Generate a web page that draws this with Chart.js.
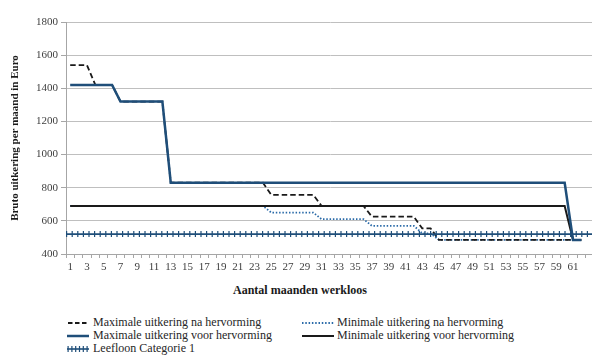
<!DOCTYPE html>
<html>
<head>
<meta charset="utf-8">
<script src="https://cdn.jsdelivr.net/npm/chart.js@4.4.1/dist/chart.umd.min.js"></script>
<style>
  html, body { margin: 0; padding: 0; background: #fff; overflow: hidden; width: 592px; height: 358px; }
  #wrap { position: relative; width: 592px; height: 358px; overflow: hidden; font-family: "Liberation Serif", "Times New Roman", Times, "DejaVu Serif", serif; color: #262626; }
  #c { position: absolute; left: 0; top: 0; }
  .xtitle { position: absolute; top: 283px; left: 300px; transform: translateX(-50%); font-weight: bold; font-size: 12px; white-space: nowrap; color: #1a1a1a; }
  .lg { position: absolute; display: flex; align-items: center; font-size: 12px; line-height: 13px; white-space: nowrap; color: #262626; }
  .lg svg { display: block; }
</style>
</head>
<body>
<div id="wrap">
  <canvas id="c" width="600" height="280"></canvas>
  <div class="xtitle">Aantal maanden werkloos</div>
  <div id="legend"></div>
</div>
<script>
// Months of unemployment (x categories)
const months = [1,2,3,4,5,6,7,8,9,10,11,12,13,14,15,16,17,18,19,20,21,22,23,24,25,26,27,28,29,30,31,
                32,33,34,35,36,37,38,39,40,41,42,43,44,45,46,47,48,49,50,51,52,53,54,55,56,57,58,59,60,61,62];

// Gross benefit per month (EUR)
const maxNa = [1540,1540,1540,1420,1420,1420,1320,1320,1320,1320,1320,1320,
               830,830,830,830,830,830,830,830,830,830,830,830,
               757,757,757,757,757,757,690,690,690,690,690,690,
               625,625,625,625,625,625,555,555,
               485,485,485,485,485,485,485,485,485,485,485,485,485,485,485,485,485,485];
const minNa = [690,690,690,690,690,690,690,690,690,690,690,690,
               690,690,690,690,690,690,690,690,690,690,690,690,
               650,650,650,650,650,650,610,610,610,610,610,610,
               570,570,570,570,570,570,525,525,
               485,485,485,485,485,485,485,485,485,485,485,485,485,485,485,485,485,485];
const maxVoor = [1420,1420,1420,1420,1420,1420,1320,1320,1320,1320,1320,1320,
                 830,830,830,830,830,830,830,830,830,830,830,830,
                 830,830,830,830,830,830,830,830,830,830,830,830,
                 830,830,830,830,830,830,830,830,830,830,830,830,
                 830,830,830,830,830,830,830,830,830,830,830,830,485,485];
const minVoor = [690,690,690,690,690,690,690,690,690,690,690,690,
                 690,690,690,690,690,690,690,690,690,690,690,690,
                 690,690,690,690,690,690,690,690,690,690,690,690,
                 690,690,690,690,690,690,690,690,690,690,690,690,
                 690,690,690,690,690,690,690,690,690,690,690,690,485,485];
const leefloon = 520;

// Y axis ticks
const yMin = 400, yMax = 1800, yStep = 200;
// X axis range: half a month either side of each category, one spare slot on the right
const xMin = 0.5, xMax = 63.5;

const series = [
  { key: 'maxNa',  label: 'Maximale uitkering na hervorming',  values: maxNa },
  { key: 'minNa',  label: 'Minimale uitkering na hervorming',  values: minNa },
  { key: 'maxVoor', label: 'Maximale uitkering voor hervorming', values: maxVoor },
  { key: 'minVoor', label: 'Minimale uitkering voor hervorming', values: minVoor }
];
const pts = arr => months.map((m, i) => ({ x: m, y: arr[i] }));

const BLUE = '#1F4E79';
const DOT_BLUE = '#2A6AA8';
const BLACK = '#1a1a1a';
const GRID = '#bfbfbf';
const AXIS = '#a6a6a6';
const FONT = '"Liberation Serif", "Times New Roman", Times, "DejaVu Serif", serif';

const styles = {
  maxNa:  { borderColor: BLACK, borderWidth: 1.8, borderDash: [5.5, 3], order: 4 },
  minNa:  { borderColor: DOT_BLUE, borderWidth: 1.8, borderDash: [1.5, 1.8], order: 5 },
  maxVoor: { borderColor: BLUE, borderWidth: 2.5, order: 2 },
  minVoor: { borderColor: BLACK, borderWidth: 2, order: 3 }
};

const datasets = series.map(s => Object.assign({
  label: s.label,
  data: pts(s.values),
  pointRadius: 0,
  tension: 0,
  fill: false,
  borderCapStyle: 'butt'
}, styles[s.key]));

// Leefloon: thin line plus a row of short vertical ticks
const leefloonPts = [{ x: xMin, y: leefloon }, { x: xMax, y: leefloon }];
datasets.push({
  label: 'Leefloon Categorie 1',
  data: leefloonPts,
  borderColor: BLUE, borderWidth: 1.6, pointRadius: 0, order: 1, borderCapStyle: 'butt'
});
datasets.push({
  label: 'Leefloon Categorie 1 (ticks)',
  data: leefloonPts,
  borderColor: BLUE, borderWidth: 6, borderDash: [1.2, 4.4], pointRadius: 0, order: 1, borderCapStyle: 'butt'
});

new Chart(document.getElementById('c'), {
  type: 'line',
  data: { datasets },
  options: {
    responsive: false,
    animation: false,
    devicePixelRatio: 1,
    layout: { padding: { top: 22, right: 6, bottom: 0, left: 0 } },
    plugins: { legend: { display: false }, tooltip: { enabled: false } },
    scales: {
      x: {
        type: 'linear',
        min: xMin, max: xMax,
        afterBuildTicks: scale => {
          const t = [];
          for (let v = xMin; v <= xMax; v += 0.5) t.push({ value: v });
          scale.ticks = t;
        },
        afterFit: scale => { scale.height = 26; },
        grid: {
          drawOnChartArea: false,
          drawTicks: true,
          tickLength: 4,
          tickColor: ctx => (ctx.tick && Number.isInteger(ctx.tick.value)) ? 'rgba(0,0,0,0)' : AXIS
        },
        border: { color: AXIS, width: 1 },
        ticks: {
          autoSkip: false, maxRotation: 0, minRotation: 0, padding: 3,
          color: '#404040',
          font: { family: FONT, size: 11 },
          callback: v => (Number.isInteger(v) && v % 2 === 1 && months.includes(v)) ? String(v) : ''
        }
      },
      y: {
        min: yMin, max: yMax,
        afterFit: scale => { scale.width = 66; },
        grid: { color: GRID, lineWidth: 1, tickLength: 5, tickColor: AXIS },
        border: { color: AXIS, width: 1 },
        ticks: {
          stepSize: yStep, padding: 3, color: '#404040',
          font: { family: FONT, size: 11 },
          callback: v => String(v)
        },
        title: {
          display: true,
          text: 'Bruto uitkering per maand in Euro',
          color: '#1a1a1a',
          font: { family: FONT, size: 11, weight: 'bold' },
          padding: { top: 9, bottom: 0 }
        }
      }
    }
  }
});

// Legend
const legendItems = [
  { label: series[0].label, left: 67, top: 316, w: 22, kind: 'dash' },
  { label: series[1].label, left: 302, top: 316, w: 32, kind: 'dot' },
  { label: series[2].label, left: 67, top: 329, w: 22, kind: 'blue' },
  { label: series[3].label, left: 302, top: 329, w: 32, kind: 'black' },
  { label: 'Leefloon Categorie 1', left: 67, top: 342, w: 22, kind: 'ticks' }
];
const svgFor = (kind, w) => {
  const y = 5;
  let body = '';
  if (kind === 'dash') body = `<line x1="1" y1="${y}" x2="${w}" y2="${y}" stroke="${BLACK}" stroke-width="1.8" stroke-dasharray="4.5 2.5"/>`;
  if (kind === 'dot') body = `<line x1="0" y1="${y}" x2="${w}" y2="${y}" stroke="${DOT_BLUE}" stroke-width="1.8" stroke-dasharray="1.5 1.8"/>`;
  if (kind === 'blue') body = `<line x1="0" y1="${y}" x2="${w}" y2="${y}" stroke="${BLUE}" stroke-width="2.5"/>`;
  if (kind === 'black') body = `<line x1="0" y1="${y}" x2="${w}" y2="${y}" stroke="${BLACK}" stroke-width="2"/>`;
  if (kind === 'ticks') body = `<line x1="0" y1="${y}" x2="${w}" y2="${y}" stroke="${BLUE}" stroke-width="1.6"/>` +
    `<line x1="0.5" y1="${y}" x2="${w}" y2="${y}" stroke="${BLUE}" stroke-width="6" stroke-dasharray="1.2 2.6"/>`;
  return `<svg width="${w}" height="10" viewBox="0 0 ${w} 10">${body}</svg>`;
};
const lg = document.getElementById('legend');
legendItems.forEach(it => {
  const d = document.createElement('div');
  d.className = 'lg';
  d.style.left = it.left + 'px';
  d.style.top = it.top + 'px';
  d.innerHTML = svgFor(it.kind, it.w) + `<span style="margin-left:${it.w === 22 ? 4 : 3}px">${it.label}</span>`;
  lg.appendChild(d);
});
</script>
</body>
</html>
